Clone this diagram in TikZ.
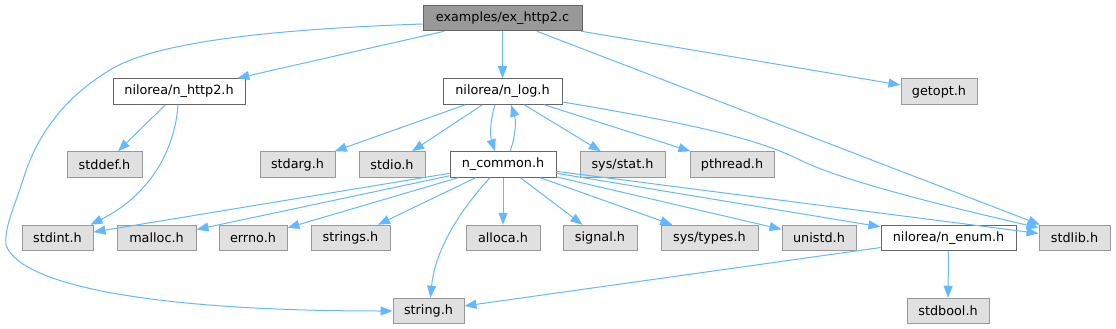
\documentclass[tikz,border=0pt]{standalone}
\usepackage{fontspec}
\setmainfont{DejaVu Sans}
\usetikzlibrary{arrows.meta}
\definecolor{edgec}{HTML}{63B8FF}
\definecolor{grayfill}{HTML}{E0E0E0}
\definecolor{grayline}{HTML}{999999}
\definecolor{darkline}{HTML}{666666}
\definecolor{rootfill}{HTML}{999999}
\begin{document}
\begin{tikzpicture}[x=1pt,y=-1pt,
  base/.style={rectangle, inner sep=0pt, line width=1pt, font=\fontsize{12.8}{14}\selectfont, text=black, minimum height=25.5pt},
  ext/.style={base, draw=grayline, fill=grayfill},
  inc/.style={base, draw=darkline, fill=white},
  root/.style={base, draw=darkline, fill=rootfill},
  e/.style={draw=edgec, line width=1pt, -{Triangle[length=12pt,width=9pt]}}
]
\useasboundingbox (0,0) rectangle (1116,329);

% row 1
\node[root, minimum width=159pt] (ex) at (502.5,18) {examples/ex\_http2.c};
% row 2
\node[inc, minimum width=132pt] (nhttp) at (179,91.5) {nilorea/n\_http2.h};
\node[inc, minimum width=119pt] (nlog) at (502.5,91.5) {nilorea/n\_log.h};
\node[ext, minimum width=76pt] (getopt) at (939,91.5) {getopt.h};
% row 3
\node[ext, minimum width=75pt] (stddef) at (104.5,164.5) {stddef.h};
\node[ext, minimum width=75pt] (stdarg) at (297.5,164.5) {stdarg.h};
\node[ext, minimum width=66pt] (stdio) at (392,164.5) {stdio.h};
\node[inc, minimum width=106pt] (ncommon) at (503,164.5) {n\_common.h};
\node[ext, minimum width=85pt] (sysstat) at (622.5,164.5) {sys/stat.h};
\node[ext, minimum width=84pt] (pthread) at (732,164.5) {pthread.h};
% row 4
\node[ext, minimum width=71pt] (stdint) at (57.5,238) {stdint.h};
\node[ext, minimum width=79pt] (malloc) at (156.5,238) {malloc.h};
\node[ext, minimum width=68pt] (errno) at (253,238) {errno.h};
\node[ext, minimum width=79pt] (strings) at (350.5,238) {strings.h};
\node[ext, minimum width=74pt] (alloca) at (503,238) {alloca.h};
\node[ext, minimum width=74pt] (signal) at (600,238) {signal.h};
\node[ext, minimum width=97pt] (systypes) at (709.5,238) {sys/types.h};
\node[ext, minimum width=74pt] (unistd) at (819,238) {unistd.h};
\node[inc, minimum width=135pt] (nenum) at (948.5,238) {nilorea/n\_enum.h};
\node[ext, minimum width=71pt] (stdlib) at (1074.5,238) {stdlib.h};
% row 5
\node[ext, minimum width=71pt] (string) at (428.5,311) {string.h};
\node[ext, minimum width=82pt] (stdbool) at (948,311) {stdbool.h};

% edges from ex
\draw[e] (ex) -- (nhttp);
\draw[e] (ex) -- (nlog);
\draw[e] (ex) -- (getopt);
\draw[e] (ex) -- (stdlib);
\draw[e] ([yshift=-6pt]ex.west) .. controls (250,30) and (150,45) .. (110,70)
  .. controls (60,100) and (35,140) .. (23,180)
  .. controls (15,205) and (4,228) .. (6,245)
  .. controls (20,285) and (150,311) .. (string.west);

% edges from n_http2
\draw[e] (nhttp) -- (stddef);
\draw[e] ([xshift=-1pt]nhttp.south) .. controls (175,150) and (150,195) .. ([xshift=-3pt]stdint.north east);

% edges from n_log
\draw[e] (nlog) -- (stdarg);
\draw[e] (nlog) -- (stdio);
\draw[e] ([xshift=-7.5pt]nlog.south) .. controls (490,120) and (490,136) .. ([xshift=-8pt]ncommon.north);
\draw[e] (nlog) -- (sysstat);
\draw[e] (nlog) -- (pthread);
\draw[e] ([yshift=-10.5pt]nlog.east) .. controls (700,125) and (760,140) .. (800,160)
  .. controls (840,180) and (940,205) .. ([yshift=-3pt]stdlib.north west);

% edges from n_common
\draw[e] ([xshift=7pt]ncommon.north) .. controls (516,136) and (516,120) .. ([xshift=8.5pt]nlog.south);
\draw[e] (ncommon) -- (stdint);
\draw[e] (ncommon) -- (malloc);
\draw[e] (ncommon) -- (errno);
\draw[e] (ncommon) -- (strings);
\draw[e] ([xshift=-13pt]ncommon.south) .. controls (460,210) and (435,250) .. ([xshift=2pt]string.north);
\draw[e] (ncommon) -- (alloca);
\draw[e] (ncommon) -- (signal);
\draw[e] (ncommon) -- (systypes);
\draw[e] (ncommon) -- (unistd);
\draw[e] (ncommon) -- (nenum);
\draw[e] (ncommon) -- (stdlib);

% edges from n_enum
\draw[e] (nenum) -- (string);
\draw[e] (nenum) -- (stdbool);
\end{tikzpicture}
\end{document}
